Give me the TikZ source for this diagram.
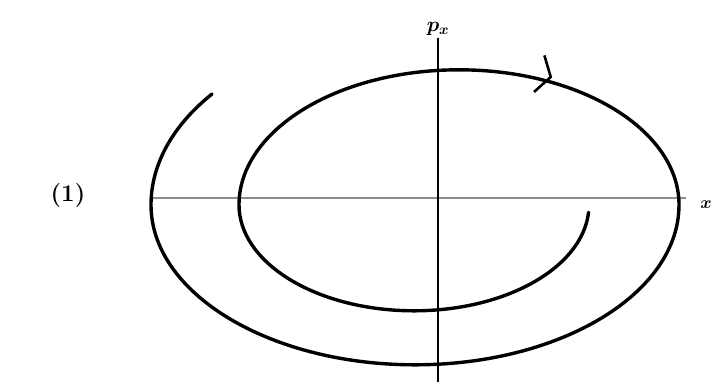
\documentclass[tikz,border=0pt]{standalone}
\usepackage{bm}
\usetikzlibrary{arrows.meta,decorations.markings}
\begin{document}
\begin{tikzpicture}[x=1pt,y=1pt,
  spiral/.style={line width=3.4pt,black,line cap=round},
  haxis/.style={line width=2pt,black!45},
  vaxis/.style={line width=1.8pt,black},
  lbl/.style={inner sep=0pt}]
\useasboundingbox (0,0) rectangle (725,385);
% axes
\coordinate (hl) at (150,187);
\coordinate (hr) at (686,187);
\coordinate (vb) at (438,3);
\coordinate (vt) at (438,347);
\draw[haxis] (hl) -- (hr);
\draw[vaxis] (vb) -- (vt);
% spiral
\draw[spiral] (414,185) ++(-4:175) arc[start angle=-4,end angle=-180,x radius=175,y radius=106]
  arc[start angle=180,end angle=0,x radius=220,y radius=135]
  arc[start angle=0,end angle=-180,x radius=264,y radius=160]
  arc[start angle=180,end angle=142,x radius=288,y radius=180];
% arrow on the upper arc
\path[decoration={markings,mark=at position 0.665 with {\arrow[line width=2.6pt]{Straight Barb[length=12pt,width=38pt]}}},decorate]
  (240,185) arc[start angle=180,end angle=0,x radius=220,y radius=135];
% labels
\node[lbl] (px) at (438,356) {\fontsize{20}{24}\selectfont$\bm{p_x}$};
\node[lbl] (xl) at (706,180) {\fontsize{18}{22}\selectfont$\bm{x}$};
\node[lbl] (one) at (68,189) {\fontsize{24}{28}\selectfont\textbf{(1)}};
\end{tikzpicture}
\end{document}
